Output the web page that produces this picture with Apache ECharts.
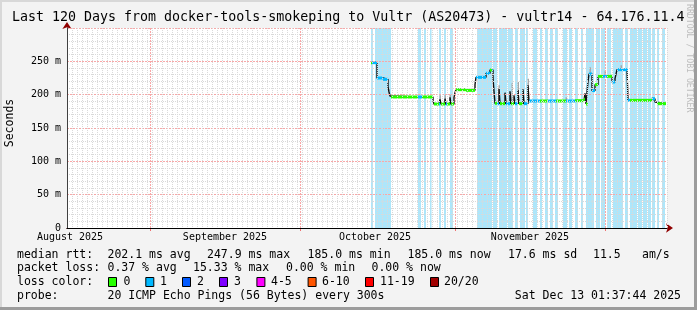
<!DOCTYPE html>
<html><head><meta charset="utf-8">
<script src="https://cdn.jsdelivr.net/npm/echarts@6/dist/echarts.min.js"></script>
<style>html,body{margin:0;padding:0;background:#f3f3f3}#c{width:697px;height:310px}</style>
</head><body><div id="c"></div>
<script>
// x values are days since the left edge of the graph (mid Aug 15 2025)
const monthStarts = [16.6, 46.6, 77.6, 107.6];          // Sep 1, Oct 1, Nov 1, Dec 1
const monthLabelDays = [0.6, 31.6, 61.6, 92.6];
const monthLabels = ['August 2025', 'September 2025', 'October 2025', 'November 2025'];
const yTicks = [0, 50, 100, 150, 200, 250];

// median rtt (ms) step data, with loss bucket (0 = green, 1 = blue, -1 = transition)
const medT = [60.8,61.0,62.0,63.2,64.2,64.4,64.6,64.8,70.2,71.0,73.2,73.4,74.4,74.6,74.8,75.6,75.8,76.0,76.6,76.8,77.4,77.6,77.8,79.8,81.6,81.8,83.8,84.6,85.0,85.2,85.4,85.6,86.0,86.4,86.6,87.6,87.8,88.6,88.8,89.4,89.6,90.2,90.4,91.2,91.4,92.2,92.4,94.6,96.2,97.8,99.8,101.6,103.4,103.6,103.8,104.2,104.4,105.0,105.6,106.2,107.2,108.0,109.0,109.6,110.0,112.0,112.2,112.6,117.0,117.6,118.0,119.8];
const medV = [248,248,225,223,212,204,198,196.5,196.5,196.5,191,186,186,193,186,194,186,186,196,186,196,203,207.5,206.5,215,226,232,237,237,225,205,187,186.5,209,186.5,203,186.5,205,186.5,199,186.5,207,186.5,208,186.5,214,190.5,190.5,190.5,190.5,190.5,191,193,202,186,220,231,206,215,227.5,227.5,227.5,219,224,237.5,237.5,191.5,191.5,194,189,186.5,186.5];
const medL = [0,1,1,1,-1,-1,-1,0,1,0,-1,0,1,-1,0,-1,1,0,-1,0,-1,-1,0,0,-1,1,1,0,1,-1,-1,0,1,-1,0,-1,1,-1,0,-1,1,-1,0,-1,1,-1,1,0,1,0,1,0,0,-1,0,-1,1,1,0,0,1,0,1,-1,1,1,1,0,1,-1,0,0];

// smoke (ms): day, low, high
const smokeT  = [74.6,75.6,76.6,86.4,89.0,90.2,92.2,99.8,104.6,107.6,110.8,117.0];
const smokeLo = [186,186,186,186,186,186,190,190,231,227,237,191];
const smokeHi = [199,199,200,214,217,219,224,196,241,236,244,196];

// periods with packet loss (days)
const lossStart = [60.8,61.6,70.2,71.4,72.6,74.4,75.4,76.6,82.0,85.2,86.4,88.2,89.6,90.6,91.8,93.2,94.6,95.6,96.6,97.6,99.2,100.4,101.6,102.8,103.8,105.8,106.8,108.0,109.2,111.6,112.6,114.2,115.2,116.2,117.0,118.0,119.0];
const lossEnd   = [61.2,64.8,70.8,71.8,72.9,74.8,75.8,77.2,85.0,86.0,88.0,89.2,90.2,91.6,92.2,94.0,95.0,96.2,97.2,98.2,100.0,101.0,102.2,103.2,105.4,106.6,107.6,108.8,111.2,112.2,114.0,115.0,116.0,116.8,117.6,118.4,119.6];

const lossColors = ['#26ff00','#00b8ff','#0059ff','#7e00ff','#ff00ff','#ff5500','#ff0000','#a10000'];
const lossNames = ['0','1','2','3','4-5','6-10','11-19','20/20'];

const MONO = '"DejaVu Sans Mono", monospace';
const chart = echarts.init(document.getElementById('c'), null, {renderer: 'canvas'});

const segData = [];
for (let i = 0; i < medT.length - 1; i++) segData.push([medT[i], medV[i], medT[i + 1], medL[i]]);
const medData = medT.map((t, i) => [t, medV[i]]);
const smokeData = smokeT.map((t, i) => [t, smokeLo[i], smokeHi[i]]);
const bandData = lossStart.map((s, i) => [s, lossEnd[i]]);

function txt(x, y, text, size, extra) {
  return Object.assign({type: 'text', x: x, y: y, silent: true,
    style: Object.assign({text: text, fill: '#000', font: size + 'px ' + MONO,
      textAlign: 'left', textVerticalAlign: 'middle', align: 'left', verticalAlign: 'middle'}, extra || {})});
}
const legendRows = [
  [255, [[17,'median rtt:'],[107.5,'202.1 ms avg'],[207,'247.9 ms max'],[307.5,'185.0 ms min'],[407.5,'185.0 ms now'],[508,'17.6 ms sd'],[593,'11.5'],[642,'am/s']]],
  [268.5, [[17,'packet loss:'],[107.5,'0.37 % avg'],[193,'15.33 % max'],[286,'0.00 % min'],[371.5,'0.00 % now']]],
  [282.5, [[17,'loss color:']]],
  [296.5, [[17,'probe:'],[107.5,'20 ICMP Echo Pings (56 Bytes) every 300s']]]
];
const graphics = [];
graphics.push({type:'rect', shape:{x:0,y:0,width:697,height:2}, style:{fill:'#d8d8d8'}, silent:true});
graphics.push({type:'rect', shape:{x:0,y:0,width:2,height:310}, style:{fill:'#d8d8d8'}, silent:true});
graphics.push({type:'rect', shape:{x:694,y:0,width:3,height:310}, style:{fill:'#9c9c9c'}, silent:true});
graphics.push({type:'rect', shape:{x:0,y:307,width:697,height:3}, style:{fill:'#9c9c9c'}, silent:true});
graphics.push(txt(12, 17.5, 'Last 120 Days from docker-tools-smokeping to Vultr (AS20473) - vultr14 - 64.176.11.4', 13.3));
graphics.push(txt(10, 123, 'Seconds', 11.5, {textAlign:'center', align:'center'}));
graphics[graphics.length - 1].rotation = Math.PI / 2;
const wm = txt(689, 4, 'RRDTOOL / TOBI OETIKER', 8.2, {fill:'#bdbdbd'});
wm.rotation = -Math.PI / 2;
graphics.push(wm);
legendRows.forEach(r => r[1].forEach(it => graphics.push(txt(it[0], r[0], it[1], 11.5))));
graphics.push(txt(681, 296.5, 'Sat Dec 13 01:37:44 2025', 11.5, {textAlign:'right', align:'right'}));
const boxX = [108, 145.3, 182, 219, 256.4, 307.6, 365, 430];
const boxLabelX = [123.5, 160, 197, 234, 271, 322, 380, 444];
boxX.forEach((bx, i) => {
  graphics.push({type:'rect', shape:{x:bx + 0.5, y:277.5, width:8, height:9}, style:{fill:lossColors[i], stroke:'#000', lineWidth:1}, silent:true});
  graphics.push(txt(boxLabelX[i], 282.5, lossNames[i], 11.5));
});

const MAJOR = {color: '#f7a8a8', type: [2, 1], width: 1, opacity: 1};
const MINOR = {color: '#d9d9d9', type: [1, 1], width: 1};

const option = {
  backgroundColor: '#f3f3f3',
  animation: false,
  grid: {left: 67, right: 30, top: 28, bottom: 82, show: true, backgroundColor: '#ffffff', borderWidth: 0},
  xAxis: [{
    type: 'value', min: 0, max: 120, interval: 1, position: 'bottom', z: 5,
    axisLine: {show: true, onZero: false, lineStyle: {color: '#000', width: 1}},
    axisTick: {show: false},
    splitLine: {show: true, lineStyle: MINOR},
    axisLabel: {customValues: monthLabelDays, fontFamily: MONO, fontSize: 10, color: '#000', margin: 4,
      formatter: v => monthLabels[monthLabelDays.indexOf(v)] || ''}
  }, {
    type: 'value', min: 0, max: 120, position: 'bottom', z: 3,
    axisLine: {show: true, onZero: false, lineStyle: {color: '#900000', width: 1}, symbol: ['none', 'arrow'], symbolSize: [7, 7], symbolOffset: [0, 6]},
    axisTick: {show: true, customValues: monthStarts, length: 3, lineStyle: {color: '#f07070'}},
    axisLabel: {show: false}, splitLine: {show: false}
  }],
  yAxis: [{
    type: 'value', min: 0, max: 300, interval: 50, position: 'left', z: 5,
    axisLine: {show: true, onZero: false, lineStyle: {color: '#404040', width: 1}},
    axisTick: {show: false},
    splitLine: {show: true, lineStyle: MAJOR},
    minorTick: {show: false, splitNumber: 5},
    minorSplitLine: {show: true, lineStyle: MINOR},
    axisLabel: {fontFamily: MONO, fontSize: 10, color: '#000', margin: 6,
      customValues: yTicks,
      formatter: v => v === 0 ? '0' : v + ' m'}
  }, {
    type: 'value', min: 0, max: 300, position: 'left', z: 3,
    axisLine: {show: true, onZero: false, lineStyle: {color: '#900000', width: 1}, symbol: ['none', 'arrow'], symbolSize: [7, 7], symbolOffset: [0, 6]},
    axisTick: {show: false}, axisLabel: {show: false}, splitLine: {show: false}
  }],
  series: [{
    type: 'custom', name: 'loss', z: 1, silent: true,
    data: bandData, encode: {x: [0, 1]},
    renderItem: (p, api) => {
      const a = api.coord([api.value(0), 300]);
      const b = api.coord([api.value(1), 0]);
      return {type: 'rect', shape: {x: a[0], y: a[1], width: Math.max(1, b[0] - a[0]), height: b[1] - a[1]}, style: {fill: '#aee6fa'}};
    },
    markLine: {silent: true, symbol: 'none', label: {show: false}, lineStyle: MAJOR,
      data: monthStarts.map(d => ({xAxis: d}))}
  }, {
    type: 'custom', name: 'smoke', z: 2, silent: true,
    data: smokeData, encode: {x: 0, y: [1, 2]},
    renderItem: (p, api) => {
      const a = api.coord([api.value(0), api.value(2)]);
      const b = api.coord([api.value(0), api.value(1)]);
      return {type: 'rect', shape: {x: a[0] - 0.5, y: a[1], width: 1.5, height: b[1] - a[1]}, style: {fill: '#a8a8a8'}};
    }
  }, {
    type: 'line', name: 'median', z: 3, step: 'end', showSymbol: false, silent: true,
    data: medData, lineStyle: {color: '#111', width: 1.4, type: 'solid'}
  }, {
    type: 'custom', name: 'medianLoss', z: 4, silent: true,
    data: segData, encode: {x: [0, 2], y: 1},
    renderItem: (p, api) => {
      const l = api.value(3);
      if (l < 0) return null;
      const a = api.coord([api.value(0), api.value(1)]);
      const b = api.coord([api.value(2), api.value(1)]);
      return {type: 'rect', shape: {x: a[0], y: a[1] - 1.5, width: b[0] - a[0], height: 3}, style: {fill: lossColors[l]}};
    }
  }],
  graphic: graphics
};
chart.setOption(option);
</script></body></html>
